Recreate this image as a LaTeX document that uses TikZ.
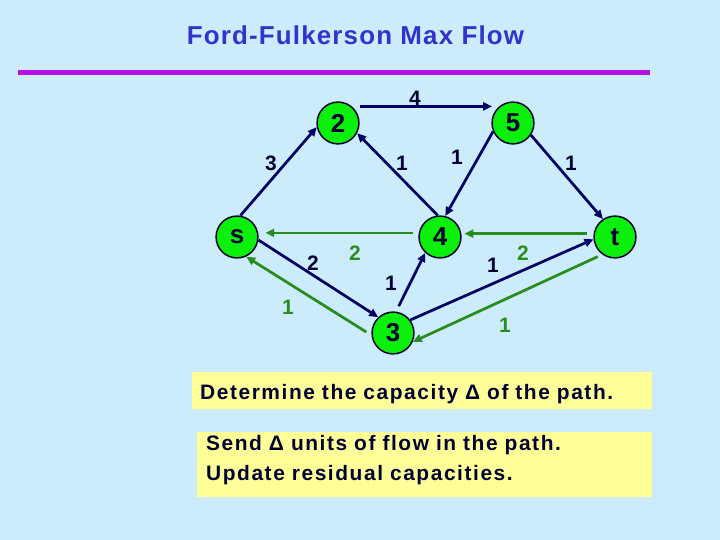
\documentclass[tikz,border=0pt]{standalone}
\usepackage{fontspec}
\setmainfont{Liberation Sans}
\newfontfamily\titlefont[LetterSpace=4.5]{Liberation Sans}
\newfontfamily\boxfont[LetterSpace=7.5]{Liberation Sans}
\usepackage{tikz}
\usetikzlibrary{arrows.meta}
\definecolor{bgblue}{RGB}{204,236,252}
\definecolor{titleblue}{RGB}{51,51,204}
\definecolor{rulepurple}{RGB}{182,16,230}
\definecolor{edgenavy}{RGB}{0,0,96}
\definecolor{textnavy}{RGB}{0,0,51}
\definecolor{flowgreen}{RGB}{40,140,30}
\definecolor{nodegreen}{RGB}{10,240,10}
\definecolor{boxyellow}{RGB}{255,255,153}

\begin{document}
\begin{tikzpicture}[scale=0.3528]
\tikzstyle{every node}+=[inner sep=0pt]
\tikzstyle{vertex}=[circle, draw=textnavy, line width=1.5pt, fill=nodegreen, minimum size=42pt, text=textnavy, font=\fontsize{26}{26}\selectfont\bfseries]
\tikzstyle{resedge}=[edgenavy, line width=2.75pt, -{Triangle[length=9pt,width=8pt]}]
\tikzstyle{flowedge}=[flowgreen, line width=2.75pt, -{Triangle[length=9pt,width=8pt]}]
\tikzstyle{reslabel}=[text=textnavy, font=\fontsize{21}{21}\selectfont\bfseries]
\tikzstyle{flowlabel}=[text=flowgreen, font=\fontsize{21}{21}\selectfont\bfseries]
\tikzstyle{stepbox}=[fill=boxyellow, anchor=north west, align=left, inner ysep=0pt, text=textnavy, font=\boxfont\fontsize{21}{30}\selectfont\bfseries]
\fill [bgblue] (0,0) rectangle (72,-54);
\useasboundingbox (0,0) rectangle (72,-54);
\node (title) [anchor=base, text=titleblue, font=\titlefont\fontsize{26}{30}\selectfont\bfseries] at (35.55,-4.5) {Ford-Fulkerson Max Flow};
\draw [rulepurple, line width=5pt] (1.8,-7.25) -- (65,-7.25);
\node [vertex] (s) at (23.7,-23.7) {s};
\node [vertex] (n2) at (33.8,-12.3) {2};
\node [vertex] (n5) at (51.3,-12.3) {5};
\node [vertex] (n4) at (44.0,-23.7) {4};
\node [vertex] (n3) at (39.3,-33.3) {3};
\node [vertex] (t) at (61.5,-23.7) {t};
\draw [resedge] (s.81) -- (n2.191);
\draw [resedge, shorten <=8pt, shorten >=7pt] (n2.50) -- (n5.130);
\draw [resedge] (n4.96) -- (n2.-28);
\draw [resedge] (n5.203) -- (n4.76);
\draw [resedge] (n5.-34) -- (t.124);
\draw [resedge] (s.-8) -- (n3.133);
\draw [resedge, shorten <=6pt] (n3.82) -- (n4.227);
\draw [resedge] (n3.37) -- (t.186);
\draw [flowedge, shorten <=6pt, shorten >=7pt] (n4.169) -- (s.11);
\draw [flowedge, shorten <=7pt, shorten >=3pt] (t.171) -- (n4.9);
\draw [flowedge, shorten <=6pt] (n3.186) -- (s.-65);
\draw [flowedge, shorten <=5pt] (t.234) -- (n3.-24);
\node [reslabel] (c25) at (41.5,-9.8) {4};
\node [reslabel] (cs2) at (27.1,-16.3) {3};
\node [reslabel] (c42) at (40.2,-16.3) {1};
\node [reslabel] (c54) at (45.7,-15.7) {1};
\node [reslabel] (c5t) at (57.1,-16.3) {1};
\node [reslabel] (cs3) at (31.3,-26.3) {2};
\node [reslabel] (c34) at (39.1,-28.3) {1};
\node [reslabel] (c3t) at (49.3,-26.5) {1};
\node [flowlabel] (f4s) at (35.5,-25.3) {2};
\node [flowlabel] (f3s) at (28.8,-30.7) {1};
\node [flowlabel] (ft4) at (52.3,-25.3) {2};
\node [flowlabel] (ft3) at (50.5,-32.5) {1};
\node [stepbox, inner xsep=8pt, text width=446pt, text height=27pt, text depth=10pt] (findpath) at (19.2,-37.2) {Determine the capacity Δ of the path.};
\node [stepbox, inner xsep=9pt, text width=439pt, text height=18pt, text depth=47pt] (augment) at (19.7,-43.2) {Send Δ units of flow in the path.\\Update residual capacities.};
\end{tikzpicture}
\end{document}
